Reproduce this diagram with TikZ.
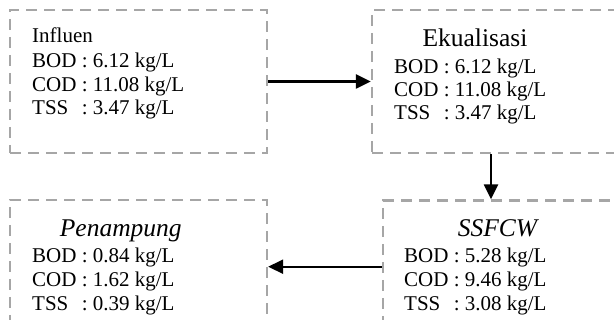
\documentclass[tikz,border=0pt]{standalone}
\usepackage{fontspec}
\setmainfont{Liberation Serif}
\usetikzlibrary{arrows.meta}
\definecolor{boxgray}{RGB}{166,166,166}
\begin{document}
\begin{tikzpicture}[x=1pt,y=-1pt,
  box/.style={draw=boxgray, line width=2.3pt, dash pattern=on 11pt off 7pt, inner sep=0pt, rectangle},
  arr/.style={-{Triangle[length=15pt,width=14pt]}, line width=2.3pt, black},
  txt/.style={font=\fontsize{21}{25}\selectfont, inner sep=0pt, anchor=base west},
  ttl/.style={font=\fontsize{25.5}{30}\selectfont, inner sep=0pt, anchor=base}]
\useasboundingbox (0,0) rectangle (614,320);
\clip (0,0) rectangle (614,320);
% boxes
\node[box, minimum width=257pt, minimum height=143pt] (infl) at (138.5,81.5) {};
\node[box, minimum width=268pt, minimum height=143pt] (ekua) at (506,81.5) {};
\node[box, minimum width=257pt, minimum height=145pt] (pen) at (138.5,272.5) {};
\node[box, minimum width=257pt, minimum height=144.5pt] (ssf) at (511.5,272.75) {};
% texts box 1
\node[txt] (t1a) at (32,42.7) {Influen};
\node[txt] (t1b) at (32,67.3) {BOD : 6.12 kg/L};
\node[txt] (t1c) at (32,91.5) {COD : 11.08 kg/L};
\node[txt] (t1d) at (32,114.5) {TSS\hspace{0.64em}: 3.47 kg/L};
% texts box 2
\node[ttl] (t2a) at (475,46.7) {Ekualisasi};
\node[txt] (t2b) at (394,73.3) {BOD : 6.12 kg/L};
\node[txt] (t2c) at (394,96.5) {COD : 11.08 kg/L};
\node[txt] (t2d) at (394,119.5) {TSS\hspace{0.64em}: 3.47 kg/L};
% texts box 3
\node[ttl] (t3a) at (120.8,236.7) {\itshape Penampung};
\node[txt] (t3b) at (32,262.7) {BOD : 0.84 kg/L};
\node[txt] (t3c) at (32,286.7) {COD : 1.62 kg/L};
\node[txt] (t3d) at (32,310.5) {TSS\hspace{0.64em}: 0.39 kg/L};
% texts box 4
\node[ttl] (t4a) at (497.5,236.7) {\itshape SSFCW};
\node[txt] (t4b) at (404,262.7) {BOD : 5.28 kg/L};
\node[txt] (t4c) at (404,286.7) {COD : 9.46 kg/L};
\node[txt] (t4d) at (404,310.5) {TSS\hspace{0.64em}: 3.08 kg/L};
% connectors
\coordinate (vx) at (491,0);
\coordinate (hy) at (0,266.7);
\draw[arr] (infl.east) -- (ekua.west);
\draw[arr] (ekua.south -| vx) -- (ssf.north -| vx);
\draw[arr] (ssf.west |- hy) -- (pen.east |- hy);
\end{tikzpicture}
\end{document}
